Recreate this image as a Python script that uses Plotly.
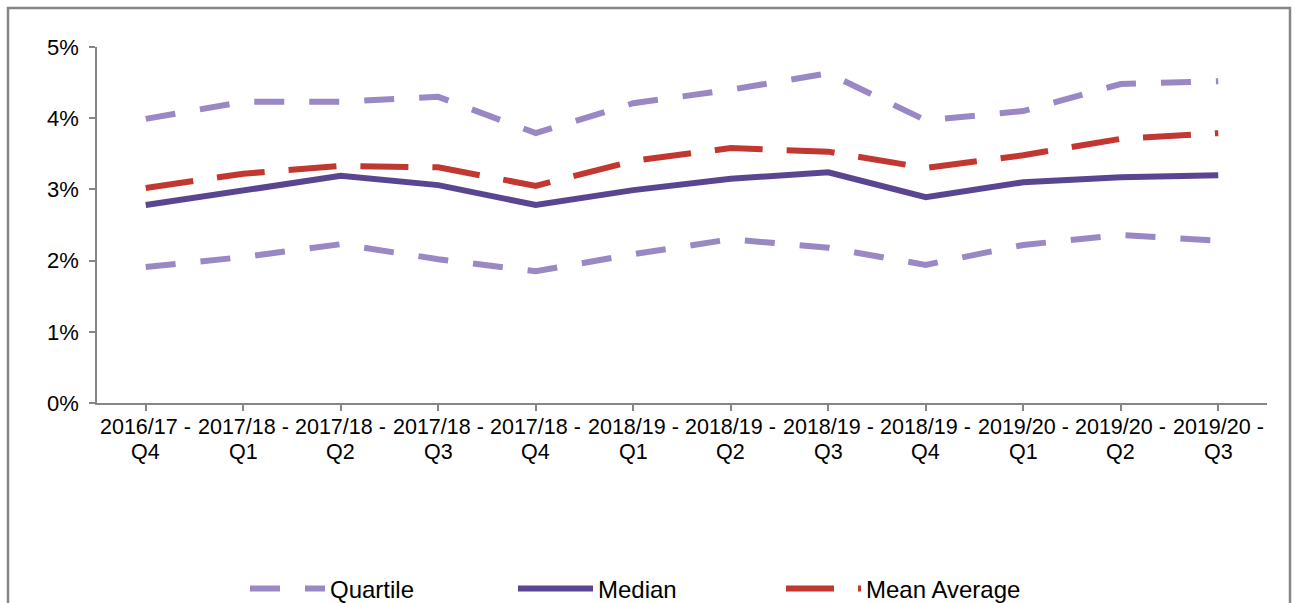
import plotly.graph_objects as go

# Quarterly periods
periods = ["2016/17 - Q4", "2017/18 - Q1", "2017/18 - Q2", "2017/18 - Q3",
           "2017/18 - Q4", "2018/19 - Q1", "2018/19 - Q2", "2018/19 - Q3",
           "2018/19 - Q4", "2019/20 - Q1", "2019/20 - Q2", "2019/20 - Q3"]
year_part = [p.split(" - ")[0] + " -" for p in periods]
quarter_part = [p.split(" - ")[1] for p in periods]

# Values (as fractions)
upper_quartile = [0.0399, 0.0423, 0.0423, 0.0430, 0.0379, 0.0421,
                  0.0440, 0.0463, 0.0397, 0.0410, 0.0448, 0.0452]
lower_quartile = [0.0191, 0.0205, 0.0223, 0.0202, 0.0185, 0.0209,
                  0.0230, 0.0218, 0.0194, 0.0222, 0.0236, 0.0228]
median = [0.0278, 0.0298, 0.0319, 0.0306, 0.0278, 0.0299,
          0.0315, 0.0324, 0.0289, 0.0310, 0.0317, 0.0320]
mean_average = [0.0302, 0.0322, 0.0333, 0.0331, 0.0305, 0.0340,
                0.0358, 0.0353, 0.0330, 0.0348, 0.0371, 0.0379]

QUART = "#9A88C5"
MED = "#5A4690"
MEAN = "#C2372F"
AXIS = "#868686"
FONT = "Liberation Sans, Arial, sans-serif"

L, R, T, B = 97, 28, 47, 200
PW, PH = 1295 - L - R, 603 - T - B


def px_x(p):
    return (p - L) / PW


def px_y(p):
    return (603 - B - p) / PH


x = list(range(len(periods)))
q_line = dict(color=QUART, width=6, dash="30px,25px")
fig = go.Figure()
fig.add_trace(go.Scatter(x=x, y=upper_quartile, mode="lines", name="Quartile",
                         legendgroup="q", showlegend=True, line=q_line))
fig.add_trace(go.Scatter(x=x, y=median, mode="lines", name="Median",
                         line=dict(color=MED, width=6)))
fig.add_trace(go.Scatter(x=x, y=mean_average, mode="lines", name="Mean Average",
                         line=dict(color=MEAN, width=6, dash="48px,24px")))
fig.add_trace(go.Scatter(x=x, y=lower_quartile, mode="lines", name="Quartile",
                         legendgroup="q", showlegend=False, line=q_line))

fig.update_layout(
    width=1295, height=603,
    margin=dict(l=L, r=R, t=T, b=B, autoexpand=False),
    paper_bgcolor="white", plot_bgcolor="white",
    font=dict(family=FONT, size=22, color="#000000"),
    showlegend=True,
    legend=dict(orientation="h", x=px_x(245), xanchor="left",
                y=px_y(589), yanchor="middle",
                entrywidth=178, entrywidthmode="pixels", itemwidth=75,
                font=dict(family=FONT, size=24, color="#000000"),
                bgcolor="rgba(0,0,0,0)"),
    xaxis=dict(range=[-0.5, len(periods) - 0.5], tickmode="array",
               tickvals=x, ticktext=year_part, tickson="boundaries",
               showticklabels=False,
               ticks="outside", ticklen=6, tickcolor=AXIS, tickwidth=1.5,
               showline=True, linecolor=AXIS, linewidth=1.5,
               showgrid=False, zeroline=False),
    yaxis=dict(range=[0, 0.05], tickvals=[0, 0.01, 0.02, 0.03, 0.04, 0.05],
               tickformat=".0%", ticks="outside", ticklen=6, tickcolor=AXIS,
               tickwidth=1.5, showline=True, linecolor=AXIS, linewidth=1.5,
               showgrid=False, zeroline=False, ticklabelstandoff=6,
               tickfont=dict(family=FONT, size=22)),
)

# Two-line category labels under each period
for xi, yr, q in zip(x, year_part, quarter_part):
    fig.add_annotation(x=xi, xref="x", y=px_y(427), yref="paper",
                       text=yr, showarrow=False, yanchor="middle",
                       font=dict(family=FONT, size=21.5, color="#000000"))
    fig.add_annotation(x=xi, xref="x", y=px_y(452), yref="paper",
                       text=q, showarrow=False, yanchor="middle",
                       font=dict(family=FONT, size=21.5, color="#000000"))

# Chart-area border
fig.add_shape(type="rect", xref="paper", yref="paper",
              x0=px_x(8), x1=px_x(1290), y0=px_y(640), y1=px_y(8),
              line=dict(color=AXIS, width=2.5), fillcolor="rgba(0,0,0,0)",
              layer="below")

fig.write_html("out.html")
